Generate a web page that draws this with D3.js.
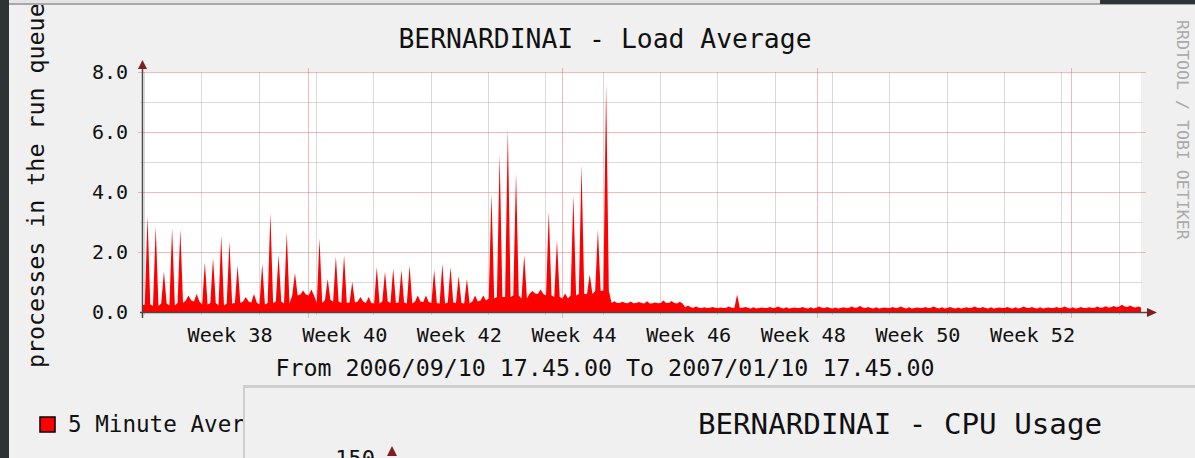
<!DOCTYPE html>
<html><head><meta charset="utf-8">
<script src="https://cdn.jsdelivr.net/npm/d3@7"></script>
<style>html,body{margin:0;padding:0;background:#f0f0f0;overflow:hidden} svg{display:block}</style>
</head><body>
<svg id="c" width="1195" height="458"></svg>
<script>
// ---------- data ----------
const chartTitle = "BERNARDINAI - Load Average";
const yAxisTitle = "processes in the run queue";
const periodText = "From 2006/09/10 17.45.00 To 2007/01/10 17.45.00";
const legendText = "5 Minute Average";
const watermarkText = "RRDTOOL / TOBI OETIKER";
const nextTitle = "BERNARDINAI - CPU Usage";
const nextTick = "150";
const startTime = "2006-09-10T17:45:00Z";
const endTime = "2007-01-10T17:45:00Z";
const yTicks = [0, 2, 4, 6, 8];
const yMinor = [1, 3, 5, 7];
const weekLabels = [38, 40, 42, 44, 46, 48, 50, 52];
const monthLines = ["2006-10-01T00:00:00Z", "2006-11-01T00:00:00Z", "2006-12-02T03:00:00Z", "2007-01-02T04:00:00Z"];
// daily readings from Sun 2006-09-10 (index 0) to Wed 2007-01-10 (index 122)
const dailyPeak = [
  0.25, 3.2, 2.85, 1.35, 2.8, 2.75, 0.55, 0.6, 1.65, 1.8,
  2.55, 2.35, 1.55, 0.5, 0.6, 1.6, 3.3, 1.9, 2.65, 1.3,
  0.72, 0.75, 2.45, 1.1, 1.85, 1.9, 1.0, 0.5, 0.5, 1.5,
  1.35, 1.45, 1.4, 1.55, 0.55, 0.55, 1.4, 1.6, 1.5, 1.2,
  1.1, 0.55, 0.55, 3.95, 5.25, 6.1, 4.65, 1.9, 0.7, 0.75,
  3.35, 2.4, 0.62, 3.9, 4.9, 1.25, 2.75, 7.6, 0.36, 0.34,
  0.35, 0.33, 0.36, 0.32, 0.38, 0.37, 0.34, 0.22, 0.18, 0.16,
  0.17, 0.15, 0.18, 0.58, 0.17, 0.16, 0.15, 0.17, 0.18, 0.16,
  0.15, 0.17, 0.16, 0.18, 0.17, 0.15, 0.16, 0.18, 0.2, 0.17,
  0.16, 0.15, 0.17, 0.18, 0.16, 0.15, 0.17, 0.18, 0.16, 0.17,
  0.15, 0.16, 0.18, 0.17, 0.16, 0.15, 0.17, 0.16, 0.18, 0.17,
  0.16, 0.15, 0.17, 0.18, 0.16, 0.17, 0.16, 0.18, 0.19, 0.2,
  0.24, 0.22, 0.18
];
const dailyLow = [
  0.22, 0.25, 0.2, 0.28, 0.22, 0.3, 0.38, 0.35, 0.25, 0.3,
  0.22, 0.28, 0.3, 0.35, 0.32, 0.25, 0.3, 0.35, 0.28, 0.55,
  0.58, 0.55, 0.3, 0.4, 0.35, 0.3, 0.32, 0.35, 0.3, 0.28,
  0.35, 0.3, 0.32, 0.28, 0.35, 0.33, 0.3, 0.28, 0.32, 0.3,
  0.28, 0.35, 0.38, 0.45, 0.5, 0.5, 0.55, 0.45, 0.62, 0.6,
  0.55, 0.5, 0.45, 0.55, 0.6, 0.6, 0.7, 0.72, 0.3, 0.3,
  0.29, 0.3, 0.28, 0.29, 0.3, 0.3, 0.28, 0.16, 0.14, 0.13,
  0.14, 0.13, 0.14, 0.13, 0.14, 0.12, 0.13, 0.13, 0.14, 0.12,
  0.13, 0.13, 0.12, 0.14, 0.13, 0.12, 0.13, 0.14, 0.15, 0.13,
  0.12, 0.13, 0.13, 0.14, 0.12, 0.13, 0.13, 0.14, 0.12, 0.13,
  0.12, 0.13, 0.14, 0.13, 0.12, 0.13, 0.13, 0.12, 0.14, 0.13,
  0.12, 0.13, 0.13, 0.14, 0.12, 0.13, 0.13, 0.14, 0.15, 0.16,
  0.18, 0.17, 0.15
];

// ---------- build series (one low / peak / low reading per day) ----------
const day0 = new Date("2006-09-10T00:00:00Z");
const series = [];
dailyPeak.forEach((p, i) => {
  const d = d3.utcDay.offset(day0, i);
  series.push({t: d3.utcHour.offset(d, 2), v: dailyLow[i]});
  series.push({t: d3.utcHour.offset(d, 10), v: p});
  series.push({t: d3.utcHour.offset(d, 18), v: dailyLow[i]});
});

// ---------- layout ----------
const svg = d3.select("#c");
const W = 1195, H = 458;
const X0 = 142, X1 = 1141, Y0 = 312, Y1 = 72;
const mono = "DejaVu Sans Mono";

const x = d3.scaleUtc().domain([new Date(startTime), new Date(endTime)]).range([X0, X1]);
const y = d3.scaleLinear().domain([0, 8]).range([Y0, Y1]);

// window frame
svg.append("rect").attr("width", W).attr("height", H).attr("fill", "#f0f0f0");
svg.append("rect").attr("x", 0).attr("y", 0).attr("width", W).attr("height", 3).attr("fill", "#e4e4e4");
svg.append("rect").attr("x", 0).attr("y", 3).attr("width", W).attr("height", 2).attr("fill", "#a8a8a8");
svg.append("rect").attr("x", 1100).attr("y", 0).attr("width", 95).attr("height", 4).attr("fill", "#2e3436");
svg.append("rect").attr("x", 0).attr("y", 0).attr("width", 9).attr("height", H).attr("fill", "#2e3436");

// canvas
svg.append("rect").attr("x", X0).attr("y", Y1).attr("width", X1 - X0).attr("height", Y0 - Y1).attr("fill", "#ffffff");

const grid = svg.append("g");
// minor vertical grid (weeks)
grid.selectAll("line.wk").data(x.ticks(d3.utcMonday.every(1))).join("line")
  .attr("x1", d => Math.round(x(d)) + 0.5).attr("x2", d => Math.round(x(d)) + 0.5)
  .attr("y1", Y1).attr("y2", Y0 + 3)
  .attr("stroke", "rgba(140,140,140,0.32)").attr("stroke-width", 1);
// minor horizontal grid
grid.selectAll("line.ym").data(yMinor).join("line")
  .attr("x1", X0 - 2).attr("x2", X1 + 1)
  .attr("y1", d => Math.round(y(d)) + 0.5).attr("y2", d => Math.round(y(d)) + 0.5)
  .attr("stroke", "rgba(140,140,140,0.32)");
// major horizontal grid
grid.selectAll("line.yM").data(yTicks.filter(v => v > 0)).join("line")
  .attr("x1", X0 - 4).attr("x2", X1 + 5)
  .attr("y1", d => Math.round(y(d)) + 0.5).attr("y2", d => Math.round(y(d)) + 0.5)
  .attr("stroke", "rgba(230,90,90,0.42)");
// major vertical grid (months)
grid.selectAll("line.mo").data(monthLines.map(s => new Date(s))).join("line")
  .attr("x1", d => Math.round(x(d)) + 0.5).attr("x2", d => Math.round(x(d)) + 0.5)
  .attr("y1", Y1 - 4).attr("y2", Y0 + 6)
  .attr("stroke", "rgba(230,90,90,0.42)");

// area
svg.append("clipPath").attr("id", "clip").append("rect")
  .attr("x", X0).attr("y", 0).attr("width", X1 - X0).attr("height", Y0);
const area = d3.area().x(d => x(d.t)).y0(Y0).y1(d => y(d.v));
svg.append("path").datum(series).attr("clip-path", "url(#clip)")
  .attr("d", area).attr("fill", "#ff0000");

// axes
svg.append("line").attr("x1", X0 - 2).attr("x2", X1 + 8).attr("y1", Y0 + 0.5).attr("y2", Y0 + 0.5)
  .attr("stroke", "#4a4a4a").attr("stroke-width", 1.5);
svg.append("line").attr("x1", X0 + 0.5).attr("x2", X0 + 0.5).attr("y1", Y0 + 6).attr("y2", Y1 - 6)
  .attr("stroke", "#4a4a4a").attr("stroke-width", 1.5);
svg.append("path").attr("d", `M${X1 + 16},${Y0 + 0.5} L${X1 + 6},${Y0 - 4} L${X1 + 6},${Y0 + 5} Z`).attr("fill", "#7f1f1f");
svg.append("path").attr("d", `M${X0 + 0.5},${Y1 - 12} L${X0 - 4},${Y1 - 3} L${X0 + 5},${Y1 - 3} Z`).attr("fill", "#7f1f1f");

// y labels
svg.selectAll("text.yl").data(yTicks).join("text")
  .attr("x", 128).attr("y", d => y(d) + 7)
  .attr("text-anchor", "end").attr("font-family", mono).attr("font-size", 20).attr("fill", "#111")
  .text(d => d3.format(".1f")(d));

// week labels
const isoWeek1 = new Date("2006-01-02T00:00:00Z");
svg.selectAll("text.wk").data(weekLabels).join("text")
  .attr("x", w => x(d3.utcHour.offset(d3.utcMonday.offset(isoWeek1, w - 1), 84)))
  .attr("y", 342).attr("text-anchor", "middle")
  .attr("font-family", mono).attr("font-size", 20.2).attr("fill", "#111")
  .text(w => "Week " + w);

// titles
svg.append("text").attr("x", 605).attr("y", 48).attr("text-anchor", "middle")
  .attr("font-family", mono).attr("font-size", 26.4).attr("fill", "#111").text(chartTitle);
svg.append("text").attr("x", 605).attr("y", 376).attr("text-anchor", "middle")
  .attr("font-family", mono).attr("font-size", 23.3).attr("fill", "#111").text(periodText);
svg.append("clipPath").attr("id", "pclip").append("rect").attr("x", 0).attr("y", 5).attr("width", W).attr("height", H);
svg.append("g").attr("clip-path", "url(#pclip)")
  .append("text")
  .attr("transform", "translate(44,368) rotate(-90)")
  .attr("font-family", mono).attr("font-size", 23.3).attr("fill", "#111").text(yAxisTitle);
svg.append("text").attr("transform", "translate(1177,20) rotate(90)")
  .attr("font-family", mono).attr("font-size", 16.6).attr("fill", "#aaaaaa").text(watermarkText);

// legend
svg.append("rect").attr("x", 40).attr("y", 417).attr("width", 15).attr("height", 15)
  .attr("fill", "#ff0000").attr("stroke", "#000").attr("stroke-width", 1.5);
svg.append("text").attr("x", 68).attr("y", 432).attr("font-family", mono).attr("font-size", 22.6)
  .attr("fill", "#111").text(legendText);

// overlapping next window
const nw = svg.append("g");
nw.append("rect").attr("x", 243).attr("y", 385).attr("width", W - 243).attr("height", H - 385).attr("fill", "#cfcfcf");
nw.append("rect").attr("x", 245).attr("y", 388).attr("width", W - 245).attr("height", H - 388).attr("fill", "#f0f0f0");
nw.append("text").attr("x", 900).attr("y", 434).attr("text-anchor", "middle")
  .attr("font-family", mono).attr("font-size", 29.2).attr("fill", "#111").text(nextTitle);
nw.append("text").attr("x", 375).attr("y", 466).attr("text-anchor", "end")
  .attr("font-family", mono).attr("font-size", 22).attr("fill", "#111").text(nextTick);
nw.append("path").attr("d", "M392,446 L387,456 L397,456 Z").attr("fill", "#7f1f1f");
</script>
</body></html>
